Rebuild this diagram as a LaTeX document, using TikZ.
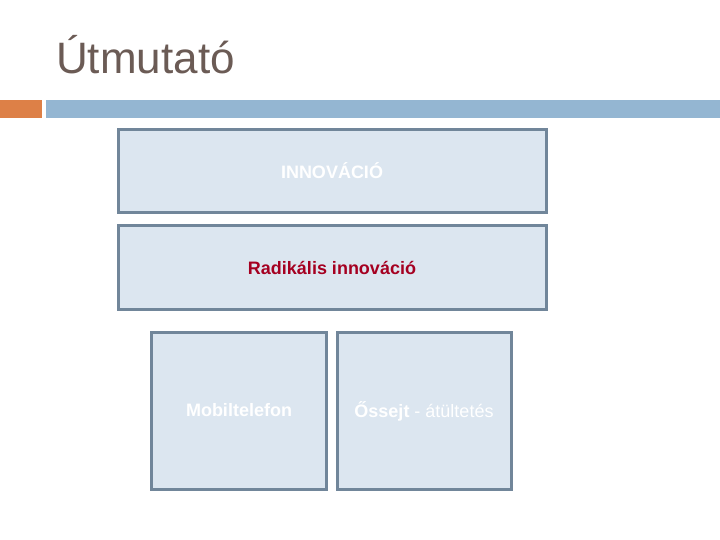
\documentclass[tikz,border=0pt]{standalone}
\usepackage{fontspec}
\setmainfont{Liberation Sans}
\definecolor{titlec}{HTML}{6B5B55}
\definecolor{orangebar}{HTML}{DD8047}
\definecolor{bluebar}{HTML}{94B6D2}
\definecolor{boxfill}{HTML}{DCE6F0}
\definecolor{boxline}{HTML}{71869A}
\definecolor{darkred}{HTML}{A50021}
\begin{document}
\begin{tikzpicture}[x=1pt,y=-1pt,
  box/.style={draw=boxline,fill=boxfill,line width=3pt,inner sep=0pt},
  lbl/.style={font=\fontsize{18}{21}\selectfont\bfseries,text=white}]
\useasboundingbox (0,0) rectangle (720,540);
\node[anchor=base west,text=titlec,font=\fontsize{44}{50}\selectfont,inner sep=0pt] (title) at (56,74) {Útmutató};
\fill[orangebar] (0,100) rectangle (42,118);
\fill[bluebar] (46,100) rectangle (720,118);
\draw[box] (118,130) rectangle (546,213);
\node[lbl] (innov) at (332,171) {INNOVÁCIÓ};
\draw[box] (118,226) rectangle (546,309);
\node[lbl,text=darkred] (rad) at (332,268) {Radikális innováció};
\draw[box] (151,332) rectangle (326,489);
\node[lbl] (mob) at (239,410) {Mobiltelefon};
\draw[box] (337,332) rectangle (511,489);
\node[lbl] (oss) at (424,411) {Őssejt \mdseries - átültetés};
\end{tikzpicture}
\end{document}
